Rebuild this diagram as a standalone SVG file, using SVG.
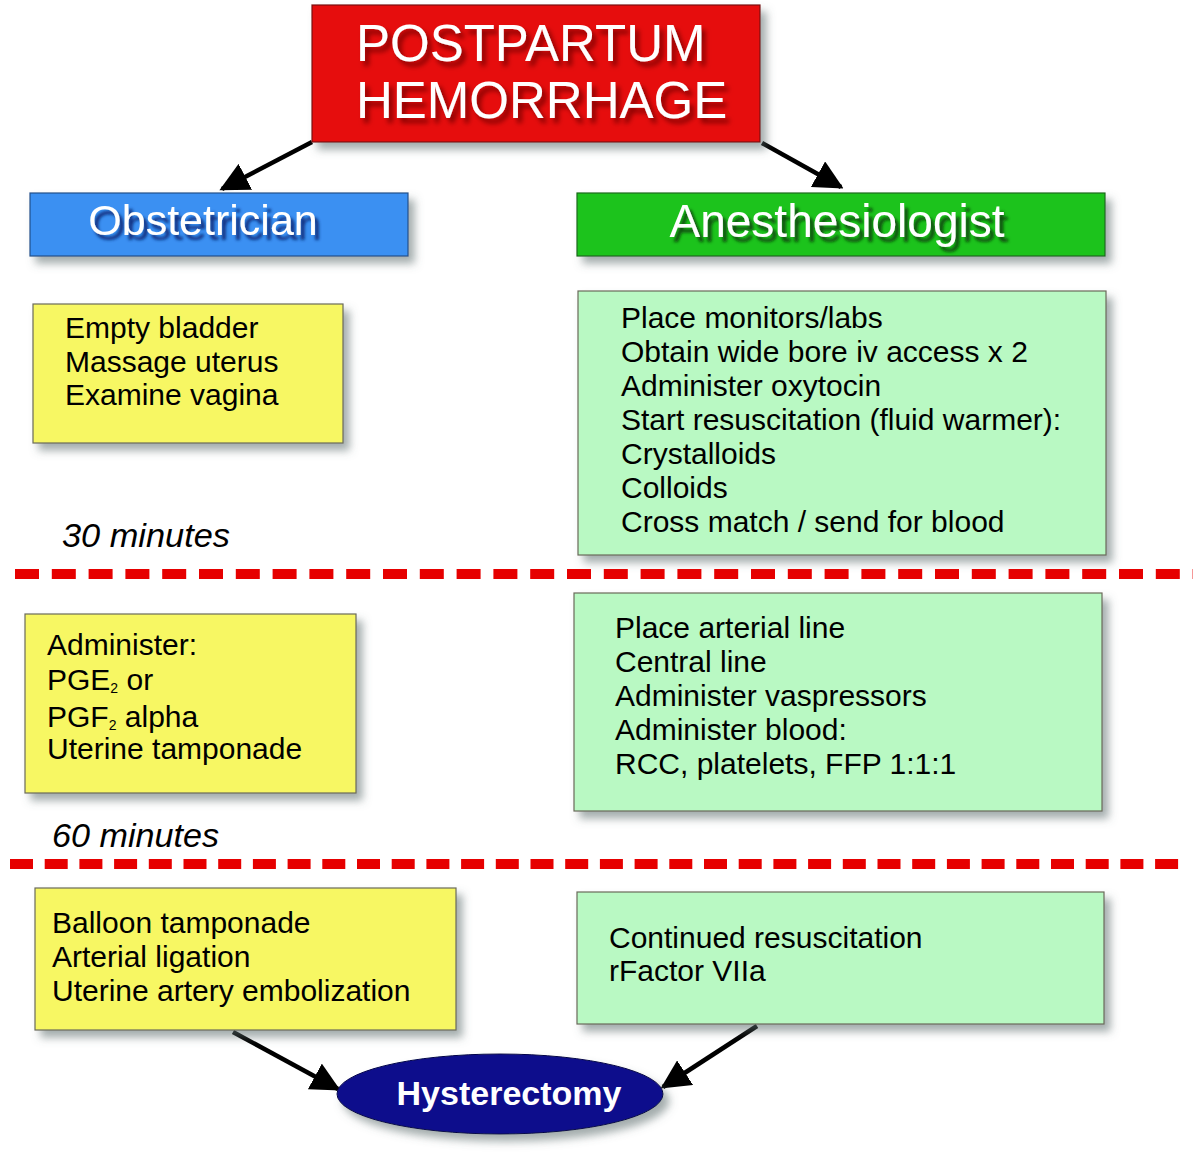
<svg xmlns="http://www.w3.org/2000/svg" width="1200" height="1157" viewBox="0 0 1200 1157">
<style>
.box{stroke:#6a6a5a;stroke-width:1.2}
.yel{fill:#f7f763}
.grn{fill:#b9f9c3}
.t{font-family:"Liberation Sans",Arial,sans-serif;font-size:30px;fill:#000}
.hdr{font-family:"Liberation Sans",Arial,sans-serif;fill:#fff}
.time{font-family:"Liberation Sans",Arial,sans-serif;font-style:italic;font-size:33px;fill:#000}
.dash{stroke:#e60000;stroke-width:10;fill:none}
.conn{stroke:#000;stroke-width:4.5;fill:none}
</style>
<defs>
<filter id="sh" x="-10%" y="-10%" width="130%" height="140%">
<feDropShadow dx="6" dy="7" stdDeviation="4" flood-color="#5a6a6a" flood-opacity="0.55"/>
</filter>
<filter id="tsR" x="-5%" y="-10%" width="115%" height="140%">
<feDropShadow dx="4" dy="5" stdDeviation="2.5" flood-color="#7a0000" flood-opacity="0.9"/>
</filter>
<filter id="tsB" x="-5%" y="-10%" width="115%" height="140%">
<feDropShadow dx="4" dy="5" stdDeviation="1.8" flood-color="#102a7a" flood-opacity="0.95"/>
</filter>
<filter id="tsG" x="-5%" y="-10%" width="115%" height="140%">
<feDropShadow dx="4" dy="5" stdDeviation="1.8" flood-color="#0a4a0a" flood-opacity="0.95"/>
</filter>
<marker id="ah" viewBox="0 0 10 10" refX="9" refY="5" markerWidth="6.5" markerHeight="6.5" orient="auto" markerUnits="strokeWidth">
<path d="M0,0 L10,5 L0,10 z" fill="#000"/>
</marker>
</defs>

<g id="connectors">
<line class="conn" x1="312" y1="142" x2="222" y2="189" marker-end="url(#ah)"/>
<line class="conn" x1="762" y1="143" x2="841" y2="187" marker-end="url(#ah)"/>
<line class="conn" x1="233" y1="1032" x2="338" y2="1089" marker-end="url(#ah)"/>
<line class="conn" x1="757" y1="1026" x2="663" y2="1087" marker-end="url(#ah)"/>
</g>

<g id="dividers">
<line class="dash" x1="15" y1="574" x2="1193" y2="574" stroke-dasharray="24 12.8"/>
<line class="dash" x1="10" y1="864" x2="1189" y2="864" stroke-dasharray="23 11.7"/>
</g>

<g id="title">
<rect x="312" y="5" width="448" height="137" fill="#e60a0a" stroke="#7a1010" stroke-width="1.2" filter="url(#sh)"/>
<g filter="url(#tsR)">
<text class="hdr" x="356" y="61" font-size="51">POSTPARTUM</text>
<text class="hdr" x="356" y="118" font-size="51">HEMORRHAGE</text>
</g>
</g>

<g id="obstetrician">
<rect x="30" y="193" width="378" height="63" fill="#3a90f2" stroke="#23508a" stroke-width="1.2" filter="url(#sh)"/>
<text class="hdr" x="203" y="235" font-size="43" text-anchor="middle" filter="url(#tsB)">Obstetrician</text>
</g>

<g id="anesthesiologist">
<rect x="577" y="193" width="528" height="63" fill="#1ec31e" stroke="#1a6a1a" stroke-width="1.2" filter="url(#sh)"/>
<text class="hdr" x="837" y="237" font-size="46" text-anchor="middle" filter="url(#tsG)">Anesthesiologist</text>
</g>

<g id="ob1">
<rect class="box yel" x="33" y="304" width="310" height="139" filter="url(#sh)"/>
<text class="t" x="65" y="338">Empty bladder</text>
<text class="t" x="65" y="372">Massage uterus</text>
<text class="t" x="65" y="405">Examine vagina</text>
</g>

<g id="an1">
<rect class="box grn" x="578" y="291" width="528" height="264" filter="url(#sh)"/>
<text class="t" x="621" y="328">Place monitors/labs</text>
<text class="t" x="621" y="362">Obtain wide bore iv access x 2</text>
<text class="t" x="621" y="396">Administer oxytocin</text>
<text class="t" x="621" y="430">Start resuscitation (fluid warmer):</text>
<text class="t" x="621" y="464">Crystalloids</text>
<text class="t" x="621" y="498">Colloids</text>
<text class="t" x="621" y="532">Cross match / send for blood</text>
</g>

<text id="t30" class="time" x="62" y="547" textLength="168" lengthAdjust="spacingAndGlyphs">30 minutes</text>

<g id="ob2">
<rect class="box yel" x="25" y="614" width="331" height="179" filter="url(#sh)"/>
<text class="t" x="47" y="655">Administer:</text>
<text class="t" x="47" y="690">PGE<tspan font-size="14" dy="3">2</tspan><tspan dy="-3"> or</tspan></text>
<text class="t" x="47" y="727">PGF<tspan font-size="14" dy="3">2</tspan><tspan dy="-3"> alpha</tspan></text>
<text class="t" x="47" y="759">Uterine tamponade</text>
</g>

<g id="an2">
<rect class="box grn" x="574" y="593" width="528" height="218" filter="url(#sh)"/>
<text class="t" x="615" y="638">Place arterial line</text>
<text class="t" x="615" y="672">Central line</text>
<text class="t" x="615" y="706">Administer vaspressors</text>
<text class="t" x="615" y="740">Administer blood:</text>
<text class="t" x="615" y="774">RCC, platelets, FFP 1:1:1</text>
</g>

<text id="t60" class="time" x="52" y="847" textLength="167" lengthAdjust="spacingAndGlyphs">60 minutes</text>

<g id="ob3">
<rect class="box yel" x="35" y="888" width="421" height="142" filter="url(#sh)"/>
<text class="t" x="52" y="933">Balloon tamponade</text>
<text class="t" x="52" y="967">Arterial ligation</text>
<text class="t" x="52" y="1001">Uterine artery embolization</text>
</g>

<g id="an3">
<rect class="box grn" x="577" y="892" width="527" height="132" filter="url(#sh)"/>
<text class="t" x="609" y="948">Continued resuscitation</text>
<text class="t" x="609" y="981">rFactor VIIa</text>
</g>

<g id="hysterectomy">
<ellipse cx="500" cy="1094" rx="163" ry="40" fill="#0c0c8c" stroke="#06064a" stroke-width="1" filter="url(#sh)"/>
<text x="509" y="1105" font-family="'Liberation Sans',Arial,sans-serif" font-weight="bold" font-size="34" fill="#fff" text-anchor="middle">Hysterectomy</text>
</g>
</svg>
